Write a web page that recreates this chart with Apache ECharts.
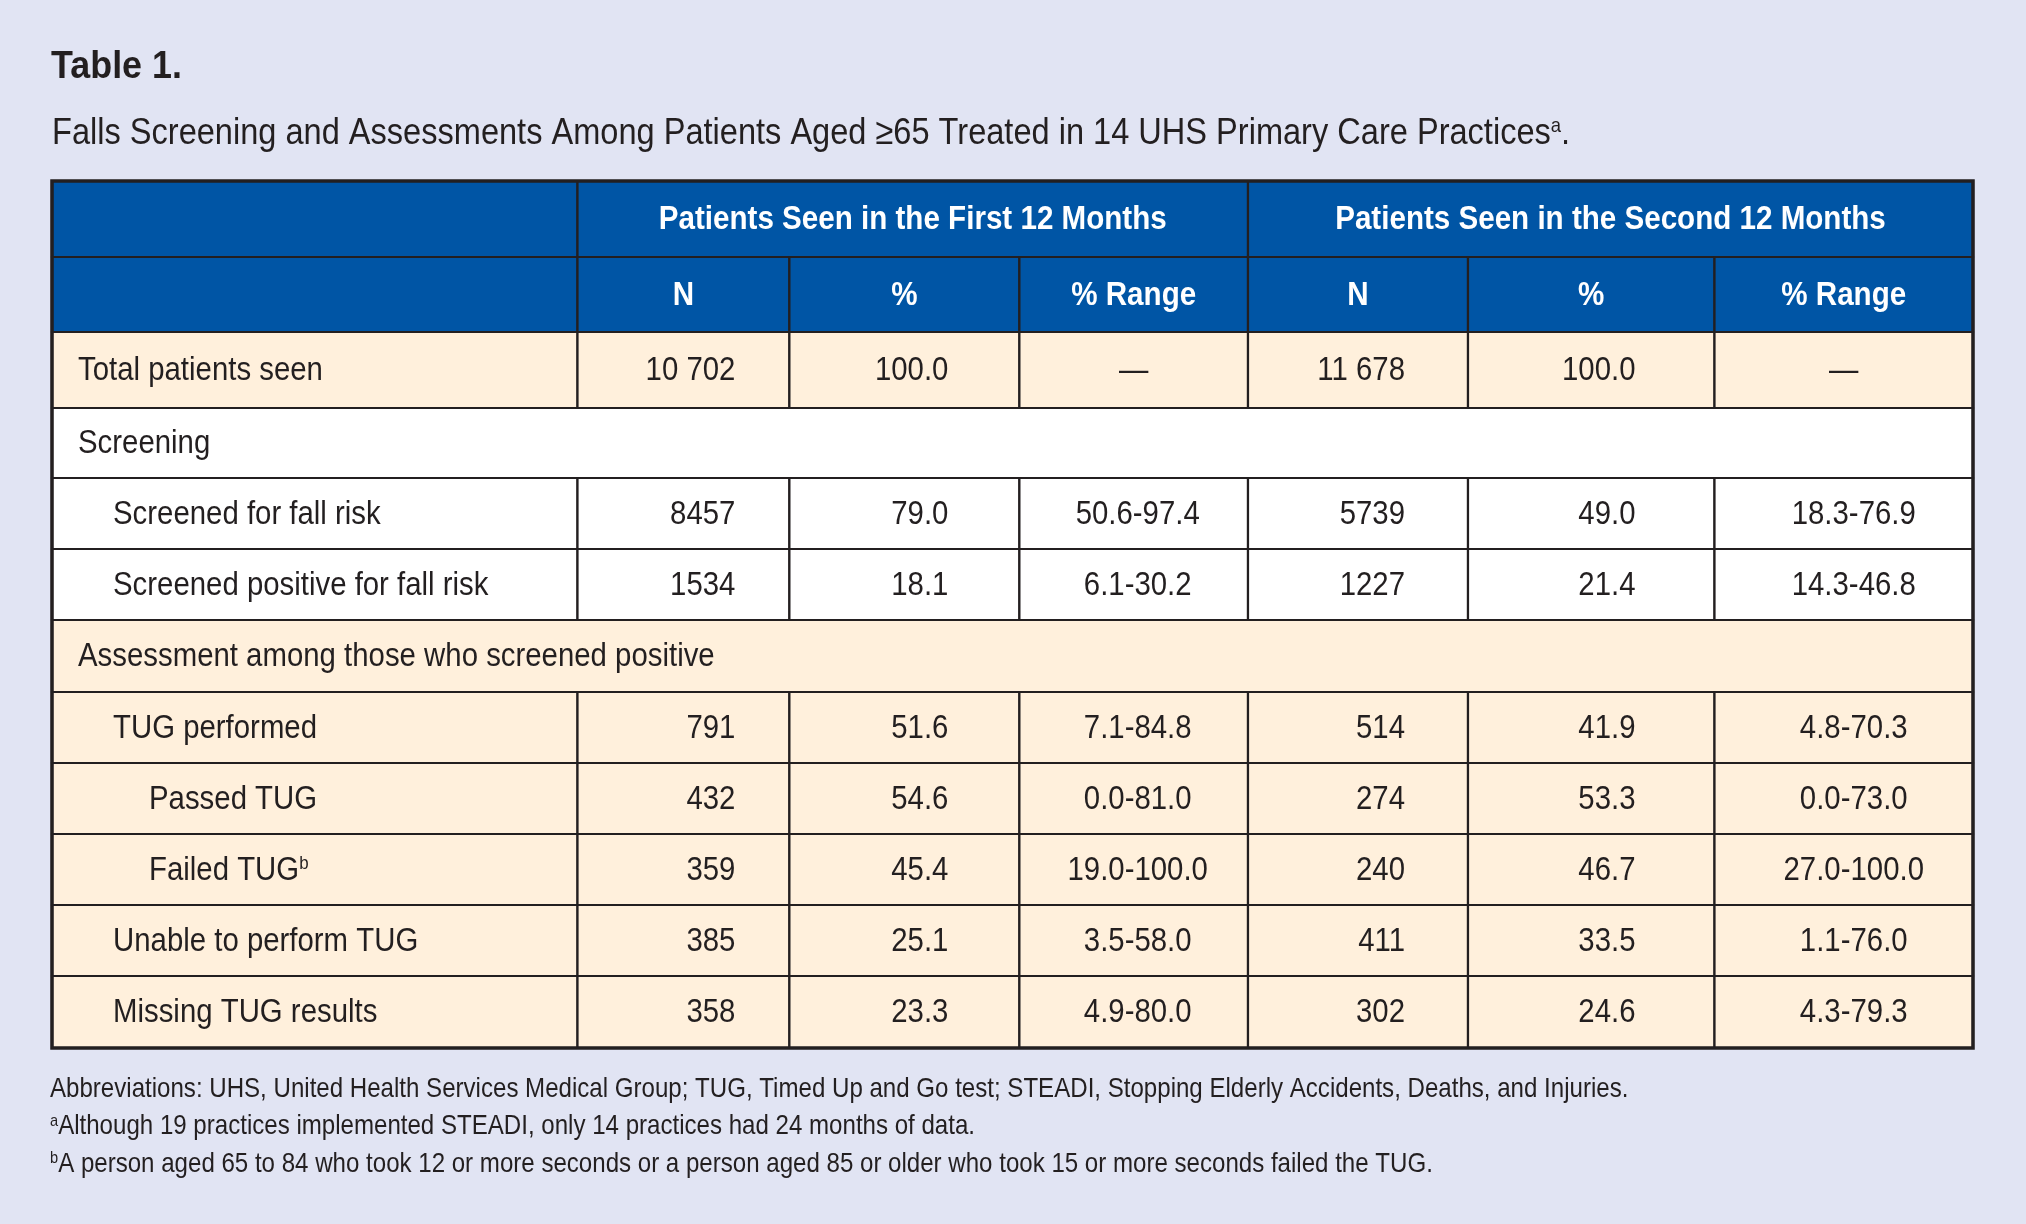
<!DOCTYPE html>
<html>
<head>
<meta charset="utf-8">
<title>Table 1</title>
<script src="https://cdn.jsdelivr.net/npm/echarts@6/dist/echarts.min.js"></script>
<style>
  html, body { margin: 0; padding: 0; background: #e1e4f3; }
  #chart { width: 2026px; height: 1224px; }
</style>
</head>
<body>
<div id="chart"></div>
<script>
// ---- data ----
const rowLabels = [
  'Total patients seen',
  'Screening',
  'Screened for fall risk',
  'Screened positive for fall risk',
  'Assessment among those who screened positive',
  'TUG performed',
  'Passed TUG',
  'Failed TUG',
  'Unable to perform TUG',
  'Missing TUG results'
];
const rowLevels = [0, 0, 1, 1, 0, 1, 2, 2, 1, 1];
const rowNotes = ['', '', '', '', '', '', '', 'b', '', ''];
const periodLabels = ['Patients Seen in the First 12 Months', 'Patients Seen in the Second 12 Months'];
const statLabels = ['N', '%', '% Range'];

const firstN = [10702, null, 8457, 1534, null, 791, 432, 359, 385, 358];
const firstPct = [100.0, null, 79.0, 18.1, null, 51.6, 54.6, 45.4, 25.1, 23.3];
const firstRange = [null, null, [50.6, 97.4], [6.1, 30.2], null, [7.1, 84.8], [0.0, 81.0], [19.0, 100.0], [3.5, 58.0], [4.9, 80.0]];
const secondN = [11678, null, 5739, 1227, null, 514, 274, 240, 411, 302];
const secondPct = [100.0, null, 49.0, 21.4, null, 41.9, 53.3, 46.7, 33.5, 24.6];
const secondRange = [null, null, [18.3, 76.9], [14.3, 46.8], null, [4.8, 70.3], [0.0, 73.0], [27.0, 100.0], [1.1, 76.0], [4.3, 79.3]];

const tableTitle = 'Table 1.';
const tableCaption = 'Falls Screening and Assessments Among Patients Aged \u226565 Treated in 14 UHS Primary Care Practices';
const footnotes = [
  ['', 'Abbreviations: UHS, United Health Services Medical Group; TUG, Timed Up and Go test; STEADI, Stopping Elderly Accidents, Deaths, and Injuries.'],
  ['a', 'Although 19 practices implemented STEADI, only 14 practices had 24 months of data.'],
  ['b', 'A person aged 65 to 84 who took 12 or more seconds or a person aged 85 or older who took 15 or more seconds failed the TUG.']
];

// ---- layout / style ----
const TABLE = { left: 52, top: 181, width: 1921, height: 867 };
const colEdges = [0, 525.5, 737.4, 967.4, 1196, 1416, 1662.5, 1921];
const rowEdges = [0, 76, 151, 227, 297, 368, 439, 511, 582, 653, 724, 795, 867];
// per value column: alignment and padding
const colAlign = [null,
  { align: 'right', pad: 54 }, { align: 'right', pad: 71 }, { align: 'center', dx: 4 },
  { align: 'right', pad: 63 }, { align: 'right', pad: 79 }, { align: 'center', dx: 10 }];
const indent = [26, 61, 97];
const shadedRows = [0, 4, 5, 6, 7, 8, 9];

const FONT = '"Liberation Sans", Arial, Helvetica, sans-serif';
const INK = '#231f20';
const BLUE = '#0055a5';
const CREAM = '#fff0dc';
const BODY_SX = 0.89;
const HEAD_SX = 0.87;
const BODY_SIZE = 33;
const HEAD_SIZE = 34;

function fmtN(n) {
  return n >= 10000 ? String(n).replace(/\B(?=(\d{3})+(?!\d))/g, ' ') : String(n);
}
function fmtRange(r) {
  return r ? r[0].toFixed(1) + '-' + r[1].toFixed(1) : '\u2014';
}

// build cells (col range, row index, text, style)
const cells = [];
cells.push({ c0: 0, c1: 1, r: 0, fill: BLUE });
cells.push({ c0: 0, c1: 1, r: 1, fill: BLUE });
periodLabels.forEach(function (lab, p) {
  cells.push({ c0: 1 + p * 3, c1: 4 + p * 3, r: 0, fill: BLUE, text: lab, bold: true, color: '#fff', align: 'center' });
  statLabels.forEach(function (s, k) {
    cells.push({ c0: 1 + p * 3 + k, c1: 2 + p * 3 + k, r: 1, fill: BLUE, text: s, bold: true, color: '#fff', align: 'center' });
  });
});
rowLabels.forEach(function (lab, i) {
  const r = i + 2;
  const fill = shadedRows.indexOf(i) >= 0 ? CREAM : '#ffffff';
  const label = rowNotes[i] ? lab + '{sup|' + rowNotes[i] + '}' : lab;
  if (firstN[i] === null) {
    cells.push({ c0: 0, c1: 7, r: r, fill: fill, text: label, color: INK, align: 'left', pad: indent[rowLevels[i]] });
    return;
  }
  cells.push({ c0: 0, c1: 1, r: r, fill: fill, text: label, color: INK, align: 'left', pad: indent[rowLevels[i]] });
  const vals = [fmtN(firstN[i]), firstPct[i].toFixed(1), fmtRange(firstRange[i]),
                fmtN(secondN[i]), secondPct[i].toFixed(1), fmtRange(secondRange[i])];
  const ranges = [null, null, firstRange[i], null, null, secondRange[i]];
  vals.forEach(function (v, k) {
    const ca = colAlign[k + 1];
    cells.push({
      c0: k + 1, c1: k + 2, r: r, fill: fill, text: v, color: INK,
      align: ca.align, pad: ca.pad, dx: (ca.align === 'center' && ranges[k]) ? ca.dx : 0
    });
  });
});
cells.push({ c0: 0, c1: 7, r: 0, r1: 12, frame: true });

const RICH = {
  sup: { fontSize: 19, fontFamily: FONT, verticalAlign: 'top', fill: INK }
};

function renderCell(params, api) {
  const c = cells[params.dataIndex];
  const p0 = api.coord([colEdges[c.c0], rowEdges[c.r]]);
  const p1 = api.coord([colEdges[c.c1], rowEdges[c.r1 !== undefined ? c.r1 : c.r + 1]]);
  const x = p0[0], y = p0[1], w = p1[0] - p0[0], h = p1[1] - p0[1];
  if (c.frame) {
    return { type: 'rect', shape: { x: x, y: y, width: w, height: h }, style: { fill: 'none', stroke: INK, lineWidth: 3.5 } };
  }
  const children = [{
    type: 'rect', shape: { x: x, y: y, width: w, height: h },
    style: { fill: c.fill, stroke: INK, lineWidth: 2.2 }
  }];
  if (c.text) {
    let tx;
    if (c.align === 'left') tx = x + c.pad;
    else if (c.align === 'right') tx = x + w - c.pad;
    else tx = x + w / 2 + (c.dx || 0);
    children.push({
      type: 'text', x: tx, y: y + h / 2 + 1, scaleX: c.bold ? HEAD_SX : BODY_SX,
      style: {
        text: c.text, rich: RICH, fill: c.color,
        fontFamily: FONT, fontSize: c.bold ? HEAD_SIZE : BODY_SIZE, fontWeight: c.bold ? 'bold' : 'normal',
        align: c.align, verticalAlign: 'middle'
      }
    });
  }
  return { type: 'group', children: children };
}

const chart = echarts.init(document.getElementById('chart'));

const option = {
  backgroundColor: '#e1e4f3',
  animation: false,
  grid: { left: TABLE.left, top: TABLE.top, width: TABLE.width, height: TABLE.height },
  xAxis: { type: 'value', min: 0, max: TABLE.width, show: false },
  yAxis: { type: 'value', min: 0, max: TABLE.height, inverse: true, show: false },
  graphic: [
    {
      type: 'text', x: 51, y: 67, scaleX: 0.92,
      style: { text: tableTitle, fontFamily: FONT, fontSize: 39, fontWeight: 'bold', fill: INK, verticalAlign: 'middle' }
    },
    {
      type: 'text', x: 52, y: 134, scaleX: 0.88,
      style: {
        text: tableCaption + '{sup|a}.', fontFamily: FONT, fontSize: 37, fill: INK, verticalAlign: 'middle',
        rich: { sup: { fontSize: 21, fontFamily: FONT, verticalAlign: 'top', fill: INK } }
      }
    }
  ].concat(footnotes.map(function (f, i) {
    return {
      type: 'text', x: 50, y: 1089 + i * 37.5, scaleX: 0.86,
      style: {
        text: (f[0] ? '{sup|' + f[0] + '}' : '') + f[1], fontFamily: FONT, fontSize: 28, fill: INK, verticalAlign: 'middle',
        rich: { sup: { fontSize: 17, fontFamily: FONT, verticalAlign: 'top', fill: INK } }
      }
    };
  })),
  series: [{
    type: 'custom',
    coordinateSystem: 'cartesian2d',
    renderItem: renderCell,
    silent: true,
    data: cells.map(function (c) { return [colEdges[c.c0], rowEdges[c.r]]; })
  }]
};

chart.setOption(option);
</script>
</body>
</html>
